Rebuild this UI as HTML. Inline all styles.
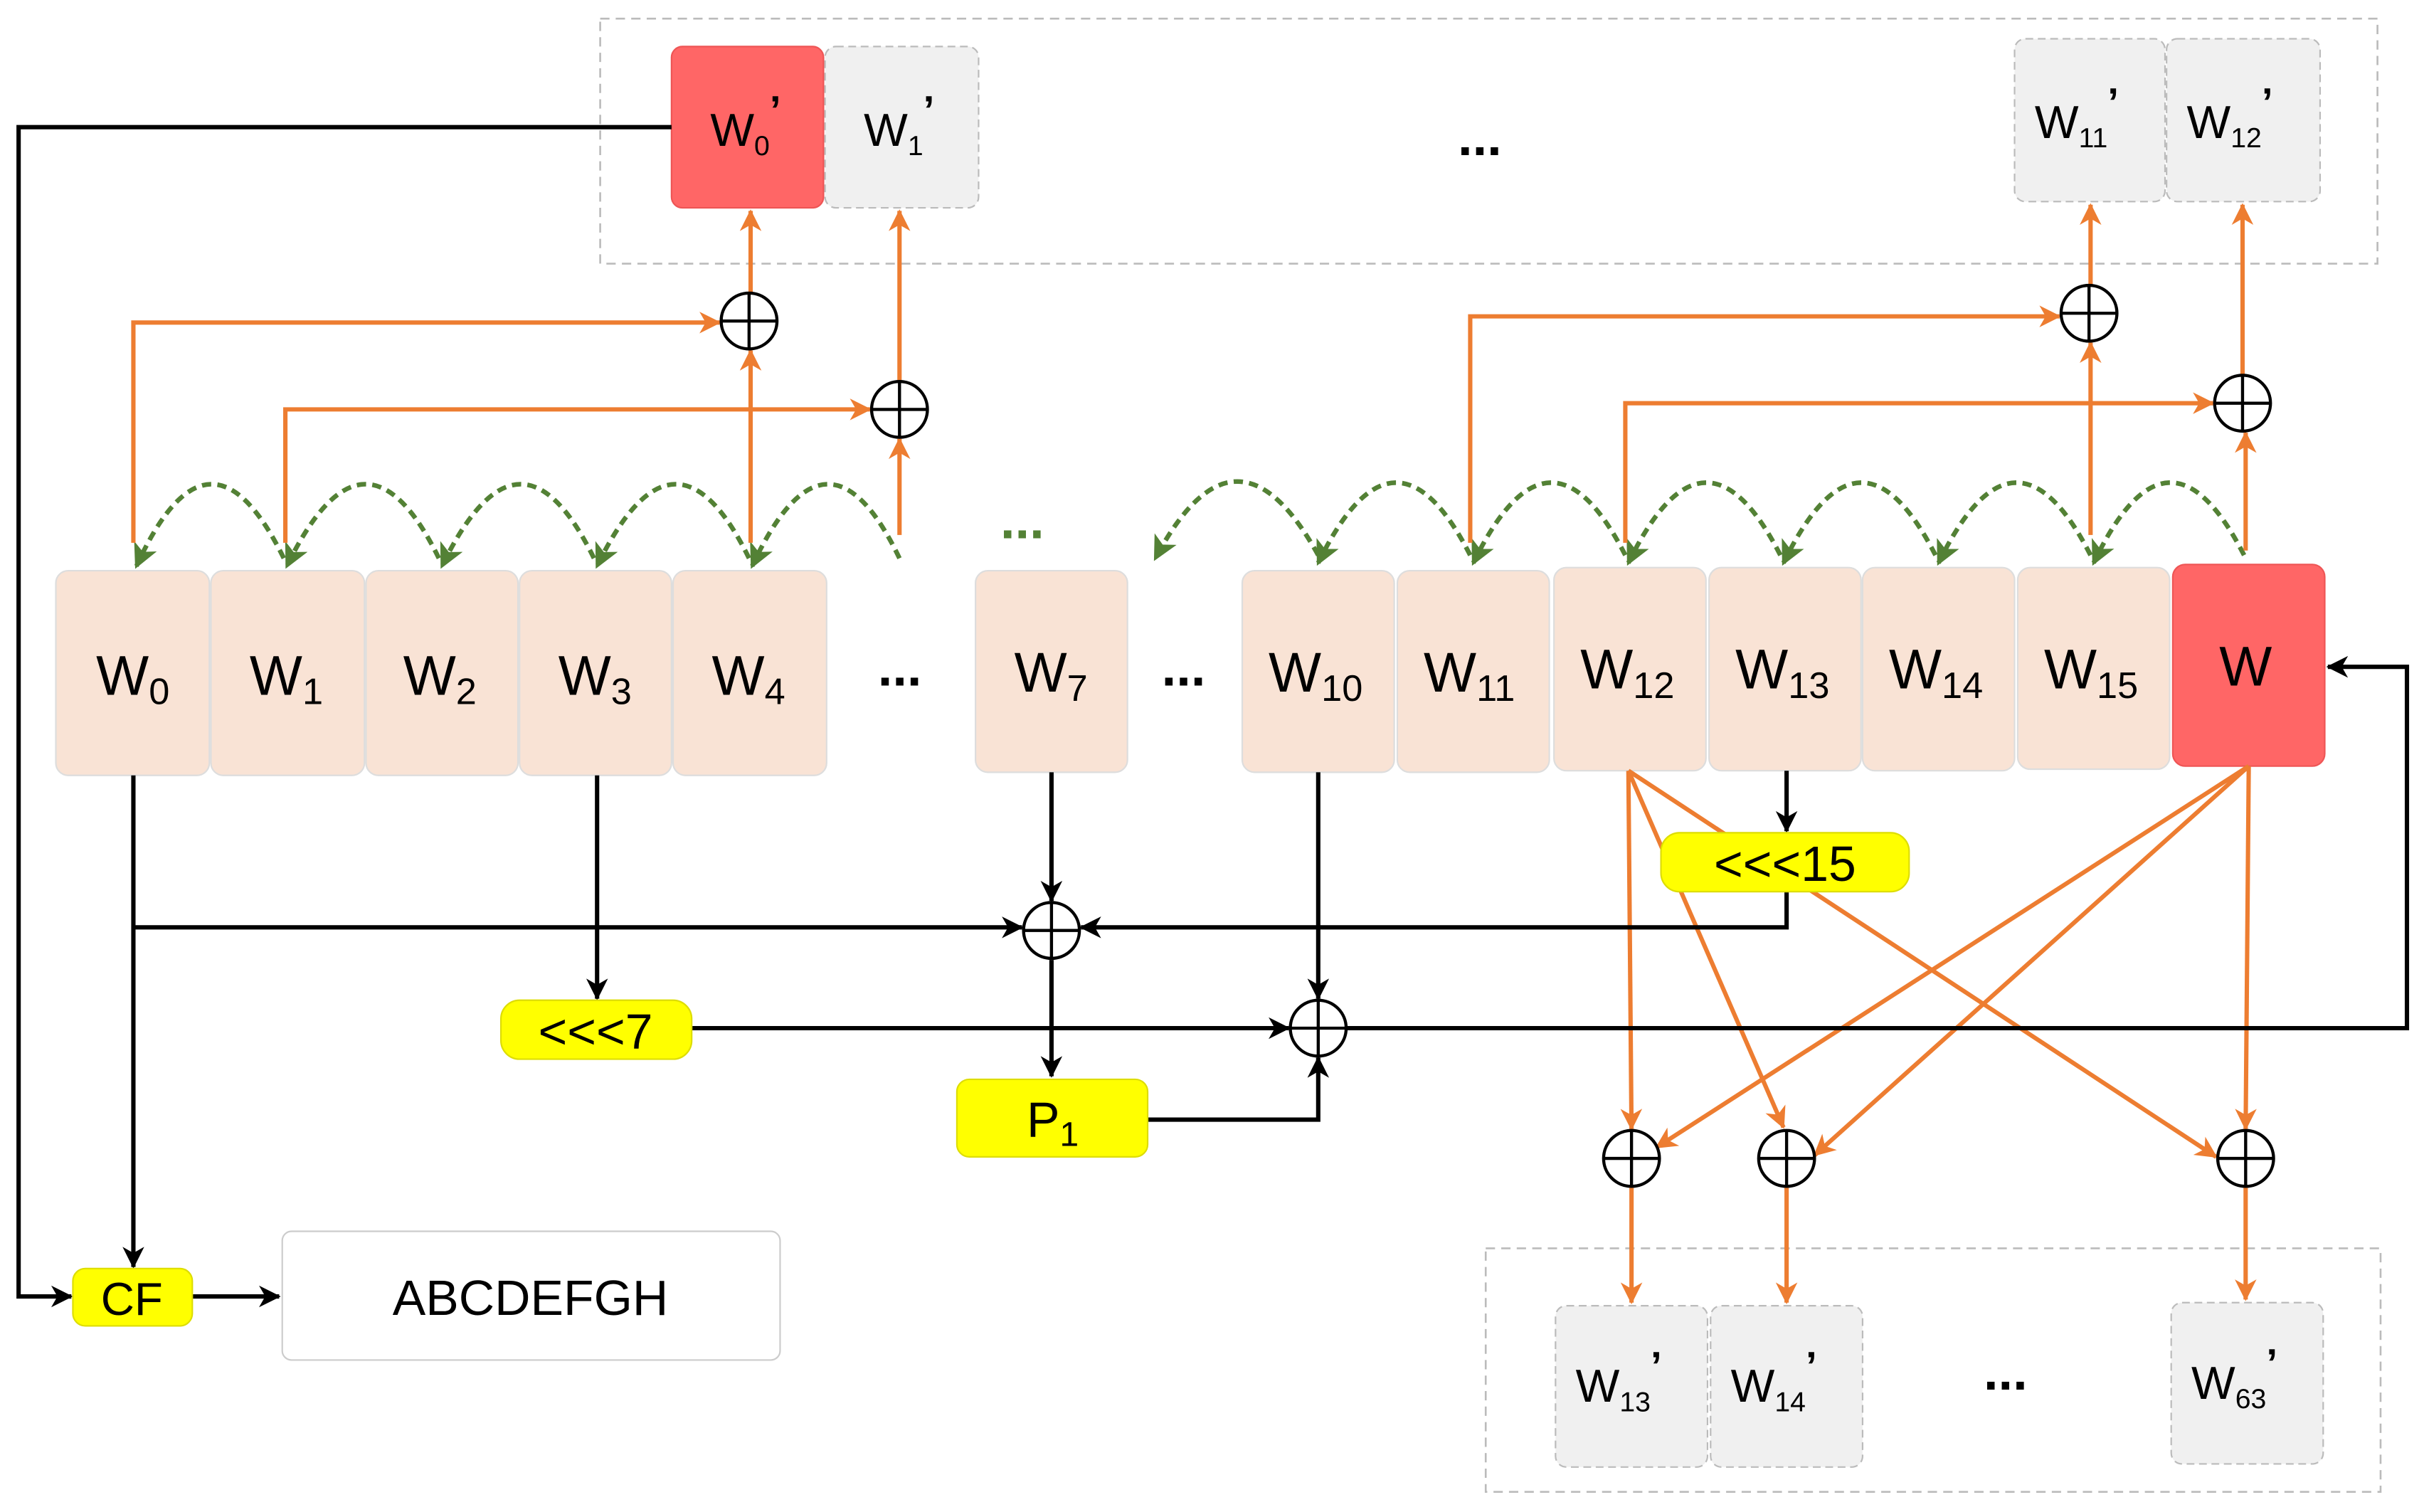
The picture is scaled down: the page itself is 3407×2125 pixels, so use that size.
<!DOCTYPE html>
<html><head><meta charset="utf-8"><style>
html,body{margin:0;padding:0;background:#fff;}
svg{display:block;}
text{font-family:"Liberation Sans",sans-serif;}
.p{font-size:26px;font-weight:bold;}
</style></head><body>
<svg width="3407" height="2125" viewBox="0 0 1563 975" preserveAspectRatio="none" xmlns="http://www.w3.org/2000/svg">
<defs>
<marker id="ab" markerWidth="14" markerHeight="14" refX="13" refY="7" orient="auto" markerUnits="userSpaceOnUse"><path d="M0,0 L14,7 L0,14 L4,7 z" fill="#000"/></marker>
<marker id="ao" markerWidth="14" markerHeight="14" refX="13" refY="7" orient="auto" markerUnits="userSpaceOnUse"><path d="M0,0 L14,7 L0,14 L4,7 z" fill="#ed7d31"/></marker>
<marker id="ag" markerWidth="16" markerHeight="16" refX="14" refY="8" orient="auto" markerUnits="userSpaceOnUse"><path d="M0,0 L16,8 L0,16 L4,8 z" fill="#538135"/></marker>
</defs>

<rect x="387" y="12" width="1146" height="158" fill="none" stroke="#bbb" stroke-dasharray="6,4" stroke-width="1.2"/>
<rect x="958" y="805" width="577" height="157" fill="none" stroke="#bbb" stroke-dasharray="6,4" stroke-width="1.2"/>

<rect x="433" y="30" width="98" height="104" rx="7" fill="#ff6666" stroke="#ee5555"/>
<rect x="532" y="30" width="99" height="104" rx="7" fill="#f0f0f0" stroke="#bbb" stroke-dasharray="5,3"/>
<rect x="1299" y="25" width="97" height="105" rx="7" fill="#f0f0f0" stroke="#bbb" stroke-dasharray="5,3"/>
<rect x="1397" y="25" width="99" height="105" rx="7" fill="#f0f0f0" stroke="#bbb" stroke-dasharray="5,3"/>
<g font-size="30" fill="#000">
<text x="458" y="94">W<tspan font-size="18" dy="6">0</tspan><tspan class="p" dy="-20">’</tspan></text>
<text x="557" y="94">W<tspan font-size="18" dy="6">1</tspan><tspan class="p" dy="-20">’</tspan></text>
<text x="1312" y="89">W<tspan font-size="18" dy="6">11</tspan><tspan class="p" dy="-20">’</tspan></text>
<text x="1410" y="89">W<tspan font-size="18" dy="6">12</tspan><tspan class="p" dy="-20">’</tspan></text>
</g>
<text x="940" y="100" font-size="34" font-weight="bold">...</text>

<g fill="#f9e3d5" stroke="#ddd">
<rect x="36" y="368" width="99" height="132" rx="8"/>
<rect x="136" y="368" width="99" height="132" rx="8"/>
<rect x="236" y="368" width="98" height="132" rx="8"/>
<rect x="335" y="368" width="98" height="132" rx="8"/>
<rect x="434" y="368" width="99" height="132" rx="8"/>
<rect x="629" y="368" width="98" height="130" rx="8"/>
<rect x="801" y="368" width="98" height="130" rx="8"/>
<rect x="901" y="368" width="98" height="130" rx="8"/>
<rect x="1002" y="366" width="98" height="131" rx="8"/>
<rect x="1102" y="366" width="98" height="131" rx="8"/>
<rect x="1201" y="366" width="98" height="131" rx="8"/>
<rect x="1301" y="366" width="98" height="130" rx="8"/>
</g>
<rect x="1401" y="364" width="98" height="130" rx="8" fill="#ff6666" stroke="#ee5555"/>
<g font-size="36" fill="#000">
<text x="62" y="448">W<tspan font-size="24" dy="6">0</tspan></text>
<text x="161" y="448">W<tspan font-size="24" dy="6">1</tspan></text>
<text x="260" y="448">W<tspan font-size="24" dy="6">2</tspan></text>
<text x="360" y="448">W<tspan font-size="24" dy="6">3</tspan></text>
<text x="459" y="448">W<tspan font-size="24" dy="6">4</tspan></text>
<text x="654" y="446">W<tspan font-size="24" dy="6">7</tspan></text>
<text x="818" y="446">W<tspan font-size="24" dy="6">10</tspan></text>
<text x="918" y="446">W<tspan font-size="24" dy="6">11</tspan></text>
<text x="1019" y="444">W<tspan font-size="24" dy="6">12</tspan></text>
<text x="1119" y="444">W<tspan font-size="24" dy="6">13</tspan></text>
<text x="1218" y="444">W<tspan font-size="24" dy="6">14</tspan></text>
<text x="1318" y="444">W<tspan font-size="24" dy="6">15</tspan></text>
<text x="1431" y="442">W</text>
</g>
<text x="566" y="442" font-size="34" font-weight="bold">...</text>
<text x="749" y="442" font-size="34" font-weight="bold">...</text>
<text x="645" y="347" font-size="34" font-weight="bold" fill="#538135">...</text>

<g fill="none" stroke="#538135" stroke-width="3" stroke-dasharray="6,4" marker-end="url(#ag)">
<path d="M183,360 Q135,262 88,365"/>
<path d="M283,360 Q235,262 185,365"/>
<path d="M383,360 Q335,262 285,365"/>
<path d="M483,360 Q435,262 385,365"/>
<path d="M580,360 Q533,262 485,365"/>
<path d="M850,358 Q797,262 745,360"/>
<path d="M948,358 Q899,262 850,363"/>
<path d="M1048,358 Q999,262 950,363"/>
<path d="M1148,358 Q1099,262 1050,363"/>
<path d="M1248,358 Q1199,262 1150,363"/>
<path d="M1348,358 Q1299,262 1250,363"/>
<path d="M1447,358 Q1398,262 1350,363"/>
</g>

<g fill="none" stroke="#ed7d31" stroke-width="2.8" marker-end="url(#ao)">
<polyline points="86,350 86,208 464,208"/>
<polyline points="184,350 184,264 561,264"/>
<line x1="484" y1="350" x2="484" y2="226"/>
<line x1="484" y1="189" x2="484" y2="136"/>
<line x1="580" y1="345" x2="580" y2="283"/>
<line x1="580" y1="246" x2="580" y2="136"/>
<polyline points="948,350 948,204 1328,204"/>
<polyline points="1048,350 1048,260 1427,260"/>
<line x1="1348" y1="345" x2="1348" y2="221"/>
<line x1="1348" y1="184" x2="1348" y2="132"/>
<line x1="1448" y1="355" x2="1448" y2="279"/>
<line x1="1446" y1="242" x2="1446" y2="132"/>
<line x1="1050" y1="497" x2="1052" y2="728"/>
<line x1="1050" y1="497" x2="1150" y2="727"/>
<line x1="1050" y1="497" x2="1429" y2="746"/>
<line x1="1450" y1="494" x2="1068" y2="740"/>
<line x1="1450" y1="494" x2="1170" y2="745"/>
<line x1="1450" y1="494" x2="1448" y2="728"/>
<line x1="1052" y1="766" x2="1052" y2="840"/>
<line x1="1152" y1="766" x2="1152" y2="840"/>
<line x1="1448" y1="766" x2="1448" y2="838"/>
</g>

<g fill="none" stroke="#000" stroke-width="2.8" marker-end="url(#ab)">
<line x1="678" y1="498" x2="678" y2="581"/>
<line x1="678" y1="619" x2="678" y2="694"/>
<polyline points="740,722 850,722 850,682"/>
<line x1="86" y1="500" x2="86" y2="817"/>
<line x1="86" y1="598" x2="659" y2="598"/>
<line x1="1152" y1="497" x2="1152" y2="536"/>
<polyline points="1152,575 1152,598 697,598"/>
<line x1="385" y1="500" x2="385" y2="644"/>
<line x1="446" y1="663" x2="831" y2="663"/>
<line x1="850" y1="498" x2="850" y2="644"/>
<polyline points="868,663 1552,663 1552,430 1501,430"/>
<polyline points="433,82 12,82 12,836 46,836"/>
<line x1="124" y1="836" x2="180" y2="836"/>
</g>

<g fill="#fff" stroke="#000" stroke-width="2">
<g><circle cx="483" cy="207" r="18"/><path d="M465,207H501M483,189V225"/></g>
<g><circle cx="580" cy="264" r="18"/><path d="M562,264H598M580,246V282"/></g>
<g><circle cx="1347" cy="202" r="18"/><path d="M1329,202H1365M1347,184V220"/></g>
<g><circle cx="1446" cy="260" r="18"/><path d="M1428,260H1464M1446,242V278"/></g>
<g><circle cx="678" cy="600" r="18"/><path d="M660,600H696M678,582V618"/></g>
<g><circle cx="850" cy="663" r="18"/><path d="M832,663H868M850,645V681"/></g>
<g><circle cx="1052" cy="747" r="18"/><path d="M1034,747H1070M1052,729V765"/></g>
<g><circle cx="1152" cy="747" r="18"/><path d="M1134,747H1170M1152,729V765"/></g>
<g><circle cx="1448" cy="747" r="18"/><path d="M1430,747H1466M1448,729V765"/></g>
</g>

<rect x="1071" y="537" width="160" height="38" rx="12" fill="#ffff00" stroke="#dd0"/>
<text x="1151" y="568" font-size="32" text-anchor="middle">&lt;&lt;&lt;15</text>
<rect x="323" y="645" width="123" height="38" rx="12" fill="#ffff00" stroke="#dd0"/>
<text x="384" y="676" font-size="32" text-anchor="middle">&lt;&lt;&lt;7</text>
<rect x="617" y="696" width="123" height="50" rx="8" fill="#ffff00" stroke="#dd0"/>
<text x="662" y="733" font-size="32">P<tspan font-size="22" dy="6">1</tspan></text>
<rect x="47" y="818" width="77" height="37" rx="8" fill="#ffff00" stroke="#dd0"/>
<text x="85" y="848" font-size="30" text-anchor="middle">CF</text>
<rect x="182" y="794" width="321" height="83" rx="6" fill="#fff" stroke="#ccc"/>
<text x="342" y="848" font-size="32" text-anchor="middle">ABCDEFGH</text>

<rect x="1003" y="842" width="98" height="104" rx="7" fill="#f0f0f0" stroke="#bbb" stroke-dasharray="5,3"/>
<rect x="1103" y="842" width="98" height="104" rx="7" fill="#f0f0f0" stroke="#bbb" stroke-dasharray="5,3"/>
<rect x="1400" y="840" width="98" height="104" rx="7" fill="#f0f0f0" stroke="#bbb" stroke-dasharray="5,3"/>
<g font-size="30">
<text x="1016" y="904">W<tspan font-size="18" dy="6">13</tspan><tspan class="p" dy="-20">’</tspan></text>
<text x="1116" y="904">W<tspan font-size="18" dy="6">14</tspan><tspan class="p" dy="-20">’</tspan></text>
<text x="1413" y="902">W<tspan font-size="18" dy="6">63</tspan><tspan class="p" dy="-20">’</tspan></text>
</g>
<text x="1279" y="896" font-size="34" font-weight="bold">...</text>
</svg>
</body></html>
